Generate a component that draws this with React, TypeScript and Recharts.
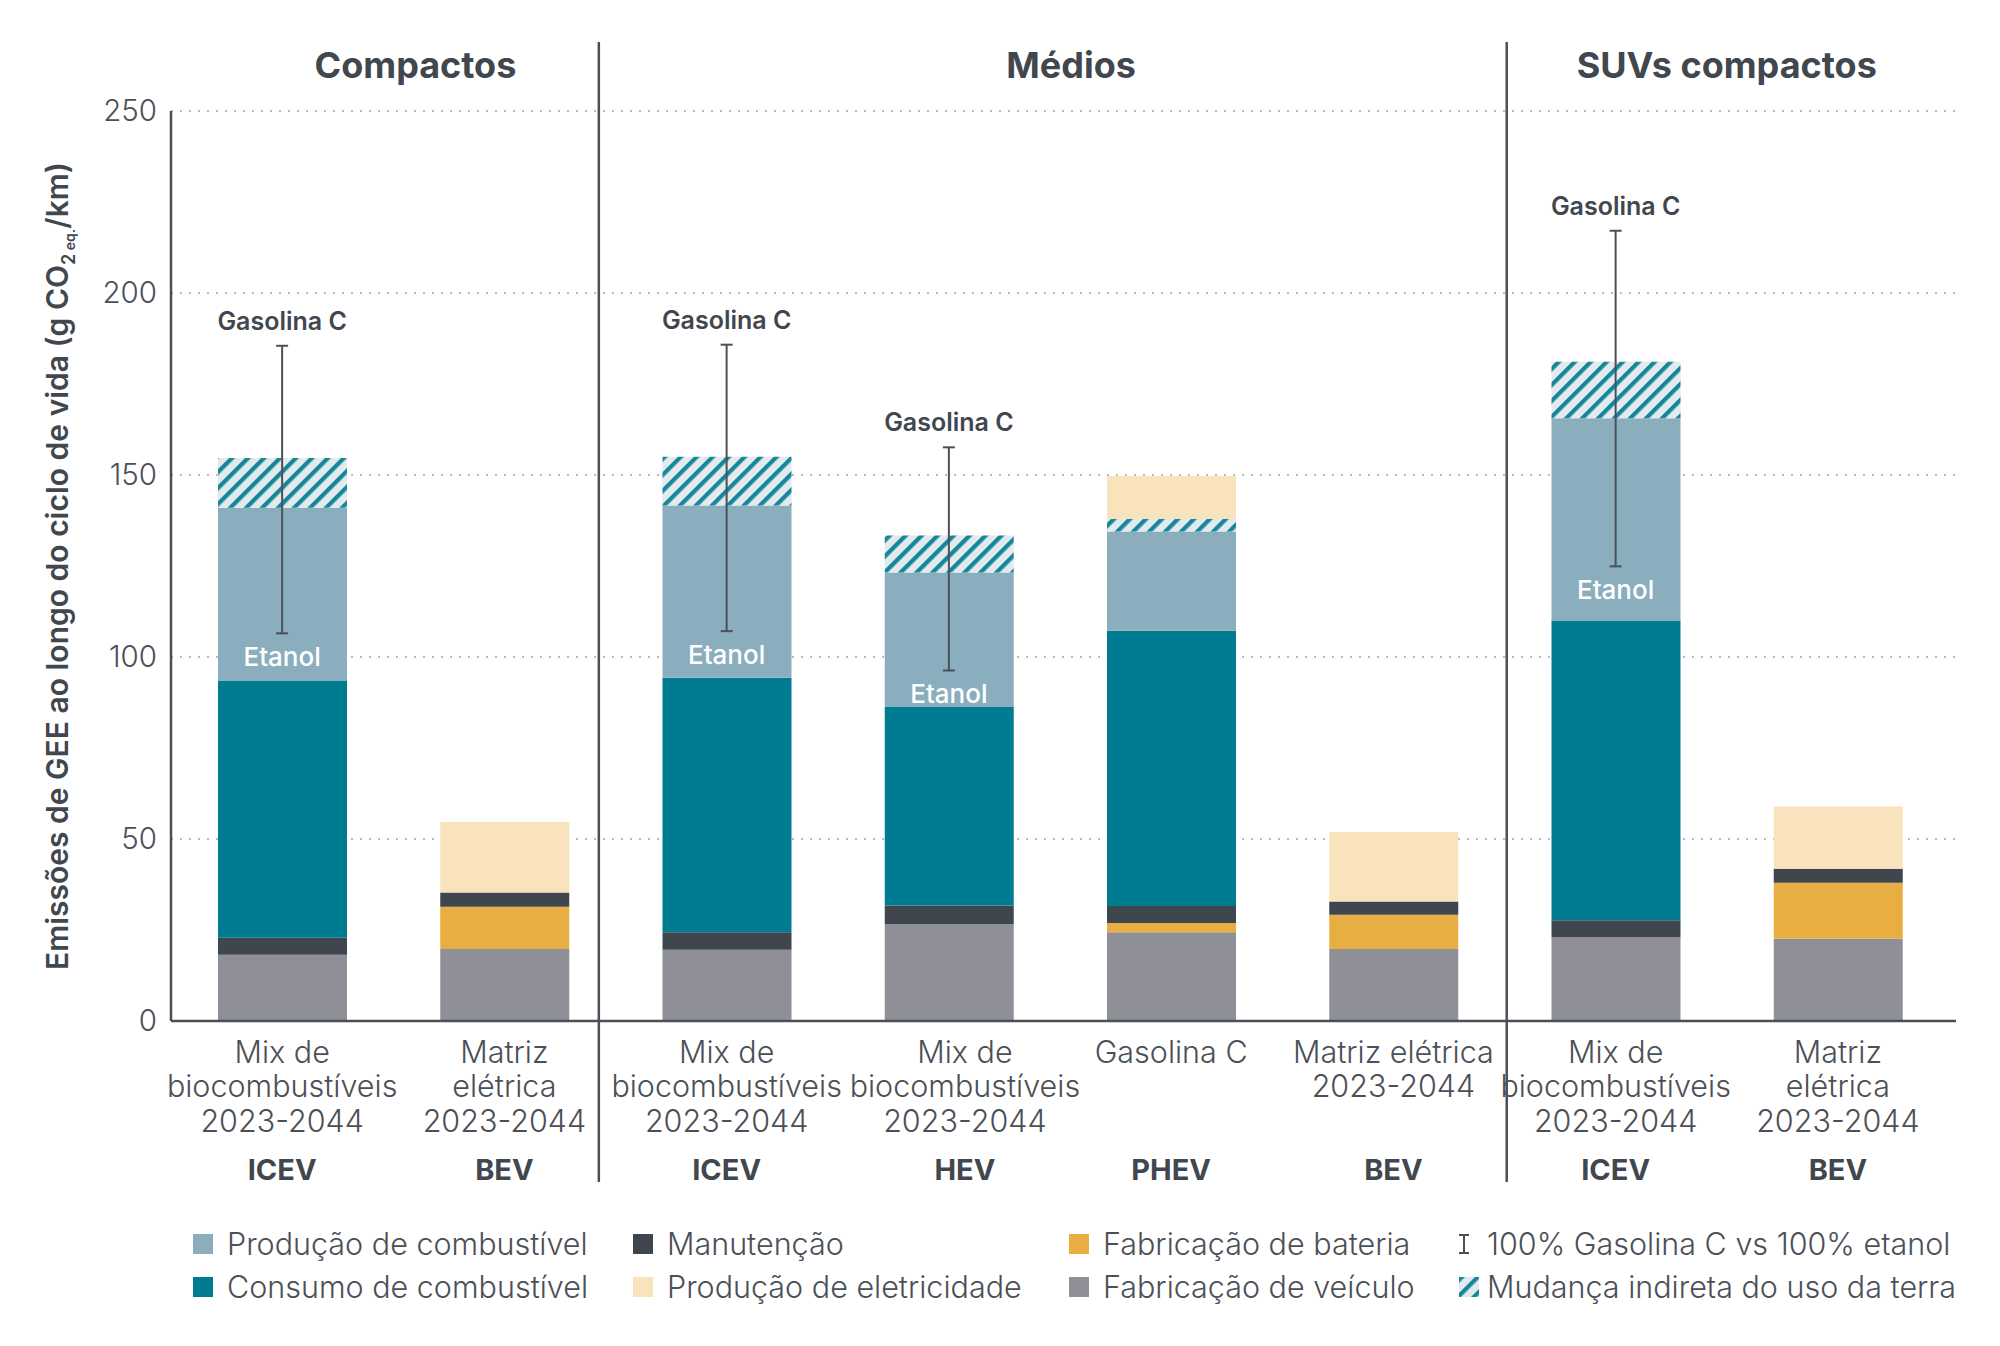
import React from 'react';
import {
  ComposedChart,
  Bar,
  Line,
  XAxis,
  YAxis,
  CartesianGrid,
  ErrorBar,
  LabelList,
  Customized,
} from 'recharts';

const categories = ['c_icev', 'c_bev', 'm_icev', 'm_hev', 'm_phev', 'm_bev', 's_icev', 's_bev'];
const tickLines = [
  ['Mix de', 'biocombustíveis', '2023-2044'],
  ['Matriz', 'elétrica', '2023-2044'],
  ['Mix de', 'biocombustíveis', '2023-2044'],
  ['Mix de', 'biocombustíveis', '2023-2044'],
  ['Gasolina C'],
  ['Matriz elétrica', '2023-2044'],
  ['Mix de', 'biocombustíveis', '2023-2044'],
  ['Matriz', 'elétrica', '2023-2044'],
];
const vehicleTypes = ['ICEV', 'BEV', 'ICEV', 'HEV', 'PHEV', 'BEV', 'ICEV', 'BEV'];
const groups = ['Compactos', 'Médios', 'SUVs compactos'];

const vehicle = [18.2, 19.8, 19.6, 26.6, 24.4, 19.8, 23.1, 22.6];
const battery = [0, 11.6, 0, 0, 2.5, 9.4, 0, 15.4];
const maintenance = [4.7, 3.9, 4.8, 5.1, 4.7, 3.6, 4.6, 3.8];
const consumption = [70.5, 0, 69.9, 54.7, 75.6, 0, 82.3, 0];
const fuelProduction = [47.6, 0, 47.3, 36.8, 27.3, 0, 55.6, 0];
const landUse = [13.7, 0, 13.4, 10.2, 3.4, 0, 15.5, 0];
const electricity = [0, 19.4, 0, 0, 11.8, 19.1, 0, 17.1];
// 100% etanol (low) vs 100% Gasolina C (high)
const ethanol = [106.5, null, 107.1, 96.3, null, null, 124.9, null];
const gasoline = [185.5, null, 185.8, 157.6, null, null, 217.1, null];

const yTicks = [0, 50, 100, 150, 200, 250];

const series = [
  { key: 'vehicle', name: 'Fabricação de veículo', color: '#8e8f97', values: vehicle },
  { key: 'battery', name: 'Fabricação de bateria', color: '#e9ae42', values: battery },
  { key: 'maintenance', name: 'Manutenção', color: '#40464e', values: maintenance },
  { key: 'consumption', name: 'Consumo de combustível', color: '#007c92', values: consumption },
  { key: 'fuelProduction', name: 'Produção de combustível', color: '#8aaebd', values: fuelProduction },
  { key: 'landUse', name: 'Mudança indireta do uso da terra', color: 'url(#hatch)', values: landUse },
  { key: 'electricity', name: 'Produção de eletricidade', color: '#f8e3bd', values: electricity },
];

const data = categories.map((key, i) => {
  const row: any = { key, ethanol: ethanol[i], gasoline: gasoline[i] };
  series.forEach((s) => (row[s.key] = s.values[i]));
  if (ethanol[i] != null && gasoline[i] != null) row.range = [0, gasoline[i] - ethanol[i]];
  return row;
});

const W = 2000;
const H = 1346;
const LEFT = 171;
const RIGHT = 1956;
const PAD_RIGHT = 7;
const TOP = 111;
const BOTTOM = 1021;
const band = (RIGHT - PAD_RIGHT - LEFT) / categories.length;

const TEXT = '#41474e';
const SOFT = '#4b5057';
const FONT = 'Inter, "Noto Sans", sans-serif';

const legendCols = [
  [series[4], series[3]],
  [series[2], series[6]],
  [series[1], series[0]],
];

function CategoryTick(props: any) {
  const { x, y, payload } = props;
  const i = categories.indexOf(payload.value);
  // the HEV caption sits a little right of its bar, so it clears its neighbour
  const tx = payload.value === 'm_hev' ? x + 16 : x;
  return (
    <g>
      {tickLines[i].map((l, k) => (
        <text key={k} x={tx} y={y + 42 + k * 34.3} textAnchor="middle" fontSize={30.5} fontWeight={300} fill={SOFT} fontFamily={FONT}>
          {l}
        </text>
      ))}
      <text x={tx} y={y + 159} textAnchor="middle" fontSize={29} fontWeight={700} fill={TEXT} fontFamily={FONT}>
        {vehicleTypes[i]}
      </text>
    </g>
  );
}

function YLabel(props: any) {
  const vb = props.viewBox || {};
  const cx = (vb.x || 0) + 68;
  const cy = (vb.y || TOP) + (vb.height || BOTTOM - TOP) / 2;
  return (
    <text x={cx} y={cy} transform={`rotate(-90, ${cx}, ${cy})`} textAnchor="middle" fontSize={30} fontWeight={600} fill={TEXT} fontFamily={FONT}>
      Emissões de GEE ao longo do ciclo de vida (g CO
      <tspan fontSize={18} dy={7}>2</tspan>
      <tspan fontSize={14}> eq.</tspan>
      <tspan fontSize={30} dy={-7}>/km)</tspan>
    </text>
  );
}

function Overlay() {
  const dividers = [LEFT + band * 1.925, LEFT + band * 6.01];
  const heads = [LEFT + band * 1.1, LEFT + band * 4.05, LEFT + band * 7.0];
  return (
    <g>
      {dividers.map((dx, k) => (
        <line key={k} x1={dx} x2={dx} y1={42} y2={1182} stroke={SOFT} strokeWidth={2.5} />
      ))}
      {groups.map((g, k) => (
        <text key={g} x={heads[k]} y={78} textAnchor="middle" fontSize={36} fontWeight={700} fill={TEXT} fontFamily={FONT}>
          {g}
        </text>
      ))}
    </g>
  );
}

function GasLabel(props: any) {
  const { x, y, value } = props;
  if (value == null) return null;
  return (
    <text x={x} y={y - 16} textAnchor="middle" fontSize={25} fontWeight={600} fill={TEXT} fontFamily={FONT}>
      Gasolina C
    </text>
  );
}

function EthanolLabel(props: any) {
  const { x, y, value } = props;
  if (value == null) return null;
  return (
    <text x={x} y={y + 33} textAnchor="middle" fontSize={26} fontWeight={500} fill="#ffffff" fontFamily={FONT}>
      Etanol
    </text>
  );
}

function HatchDefs({ id }: { id: string }) {
  return (
    <defs>
      <pattern id={id} patternUnits="userSpaceOnUse" width={11.3} height={11.3} patternTransform="rotate(45)">
        <rect width={11.3} height={11.3} fill="#e2eaed" />
        <rect width={4.2} height={11.3} fill="#15879a" />
      </pattern>
    </defs>
  );
}

function LegendBlock() {
  const colX = [193, 633, 1069];
  const rowY = [1244, 1287];
  const text = (label: string, x: number, y: number) => (
    <div
      style={{
        position: 'absolute',
        left: x,
        top: y - 20,
        height: 40,
        lineHeight: '40px',
        fontSize: 30.5,
        fontWeight: 300,
        color: SOFT,
        fontFamily: FONT,
        whiteSpace: 'nowrap',
      }}
    >
      {label}
    </div>
  );
  return (
    <>
      {legendCols.map((col, c) =>
        col.map((s, r) => (
          <React.Fragment key={s.key}>
            <div style={{ position: 'absolute', left: colX[c], top: rowY[r] - 10, width: 20, height: 20, background: s.color }} />
            {text(s.name, colX[c] + 34, rowY[r])}
          </React.Fragment>
        ))
      )}
      <svg style={{ position: 'absolute', left: 1456, top: rowY[0] - 11 }} width={16} height={22}>
        <line x1={8} x2={8} y1={2} y2={20} stroke={SOFT} strokeWidth={2} />
        <line x1={3} x2={13} y1={2} y2={2} stroke={SOFT} strokeWidth={2} />
        <line x1={3} x2={13} y1={20} y2={20} stroke={SOFT} strokeWidth={2} />
      </svg>
      {text('100% Gasolina C vs 100% etanol', 1487, rowY[0])}
      <svg style={{ position: 'absolute', left: 1459, top: rowY[1] - 10 }} width={20} height={20}>
        <HatchDefs id="hatchLegend" />
        <rect width={20} height={20} fill="url(#hatchLegend)" />
      </svg>
      {text(series[5].name, 1487, rowY[1])}
    </>
  );
}

export default function App() {
  return (
    <div style={{ position: 'absolute', left: 0, top: 0, width: W, height: H, background: '#ffffff' }}>
      <ComposedChart
        width={W}
        height={H}
        data={data}
        margin={{ top: TOP, right: W - RIGHT, bottom: 125, left: 0 }}
      >
        <HatchDefs id="hatch" />
        <CartesianGrid vertical={false} stroke="#b8bcc0" strokeWidth={2} strokeDasharray="2 7" />
        <XAxis
          dataKey="key"
          interval={0}
          height={H - BOTTOM - 125}
          padding={{ left: 0, right: PAD_RIGHT }}
          tickLine={false}
          tickSize={0}
          tickMargin={0}
          axisLine={{ stroke: SOFT, strokeWidth: 2.5 }}
          tick={<CategoryTick />}
        />
        <YAxis
          width={LEFT}
          domain={[0, 250]}
          ticks={yTicks}
          tickLine={false}
          tickSize={0}
          tickMargin={14}
          axisLine={{ stroke: SOFT, strokeWidth: 2.5 }}
          tick={{ fontSize: 29.5, fontWeight: 300, fill: SOFT, fontFamily: FONT }}
          label={<YLabel />}
        />
        {series.map((s) => (
          <Bar key={s.key} dataKey={s.key} name={s.name} stackId="a" fill={s.color} barSize={129} isAnimationActive={false} />
        ))}
        <Line dataKey="ethanol" stroke="none" dot={false} activeDot={false} legendType="none" isAnimationActive={false}>
          <ErrorBar dataKey="range" width={6} stroke={SOFT} strokeWidth={2} direction="y" />
          <LabelList dataKey="ethanol" content={<EthanolLabel />} />
        </Line>
        <Line dataKey="gasoline" stroke="none" dot={false} activeDot={false} legendType="none" isAnimationActive={false}>
          <LabelList dataKey="gasoline" content={<GasLabel />} />
        </Line>
        <Customized component={<Overlay />} />
      </ComposedChart>
      <LegendBlock />
    </div>
  );
}
